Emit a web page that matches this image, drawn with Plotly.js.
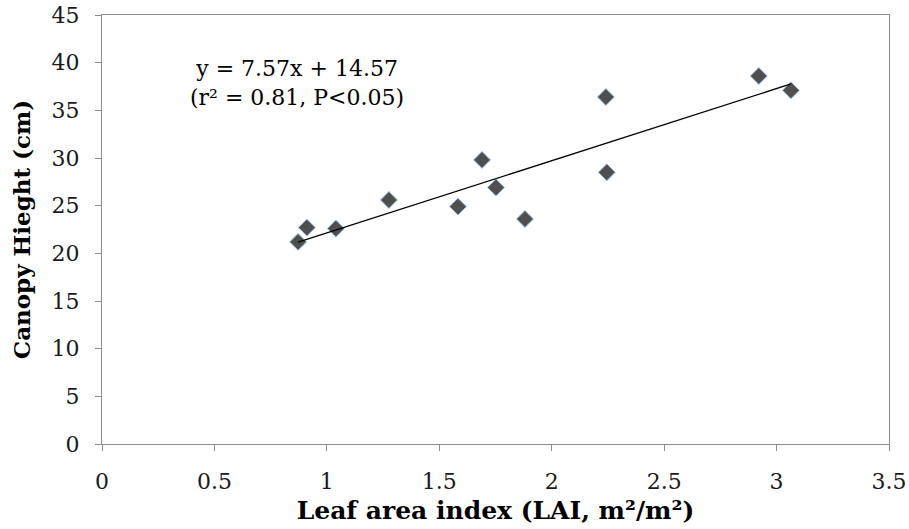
<!DOCTYPE html>
<html>
<head>
<meta charset="utf-8">
<script src="https://cdn.plot.ly/plotly-3.0.1.min.js"></script>
<style>html,body{margin:0;padding:0;background:#fff;}#chart{width:909px;height:529px;}</style>
</head>
<body>
<div id="chart"></div>
<script>
var lai = [0.872, 0.911, 1.04, 1.276, 1.583, 1.69, 1.752, 1.881, 2.241, 2.245, 2.921, 3.064];
var height = [21.2, 22.7, 22.6, 25.6, 24.9, 29.8, 26.9, 23.6, 36.4, 28.5, 38.6, 37.1];
var slope = 7.57;
var intercept = 14.57;
var xTicks = [0, 0.5, 1, 1.5, 2, 2.5, 3, 3.5];
var yTicks = [0, 5, 10, 15, 20, 25, 30, 35, 40, 45];

var xmin = Math.min.apply(null, lai), xmax = Math.max.apply(null, lai);
var fitX = [xmin, xmax];
var fitY = fitX.map(function (v) { return slope * v + intercept; });

var font = 'DejaVu Serif, Georgia, serif';
var traces = [
  {x: lai, y: height, type: 'scatter', mode: 'markers',
   marker: {symbol: 'diamond', size: 13, color: '#4f4f4f', line: {color: '#9dbde3', width: 1}},
   hoverinfo: 'x+y'},
  {x: fitX, y: fitY, type: 'scatter', mode: 'lines', line: {color: '#000', width: 1.3}, hoverinfo: 'skip'}
];
var axisCommon = {showgrid: false, zeroline: false, showline: true, linecolor: '#8c8c8c', linewidth: 1,
  mirror: true, ticks: 'outside', ticklen: 6, tickcolor: '#8c8c8c',
  tickfont: {family: font, size: 22, color: '#1a1a1a'}};
var layout = {
  width: 909, height: 529,
  margin: {l: 102, r: 20, t: 15, b: 85},
  paper_bgcolor: '#fff', plot_bgcolor: '#fff',
  showlegend: false,
  xaxis: Object.assign({}, axisCommon, {range: [0, 3.5], tickmode: 'array', tickvals: xTicks, ticktext: xTicks.map(String),
    ticklabelstandoff: 12,
    title: {text: 'Leaf area index (LAI, m²/m²)', font: {family: font, size: 25, color: '#000', weight: 'bold'}, standoff: 8}}),
  yaxis: Object.assign({}, axisCommon, {range: [0, 45], tickmode: 'array', tickvals: yTicks, ticktext: yTicks.map(String),
    ticklabelstandoff: 11,
    title: {text: 'Canopy Hieght (cm)', font: {family: font, size: 23, color: '#000', weight: 'bold'}, standoff: 14}}),
  annotations: [
    {xref: 'paper', yref: 'paper', x: 0.248, y: 0.842, xanchor: 'center', yanchor: 'middle', showarrow: false, align: 'center',
     text: 'y = 7.57x + 14.57<br>(r² = 0.81, P<0.05)', font: {family: font, size: 22, color: '#000'}}
  ]
};
Plotly.newPlot('chart', traces, layout, {displayModeBar: false, staticPlot: true});
</script>
</body>
</html>
